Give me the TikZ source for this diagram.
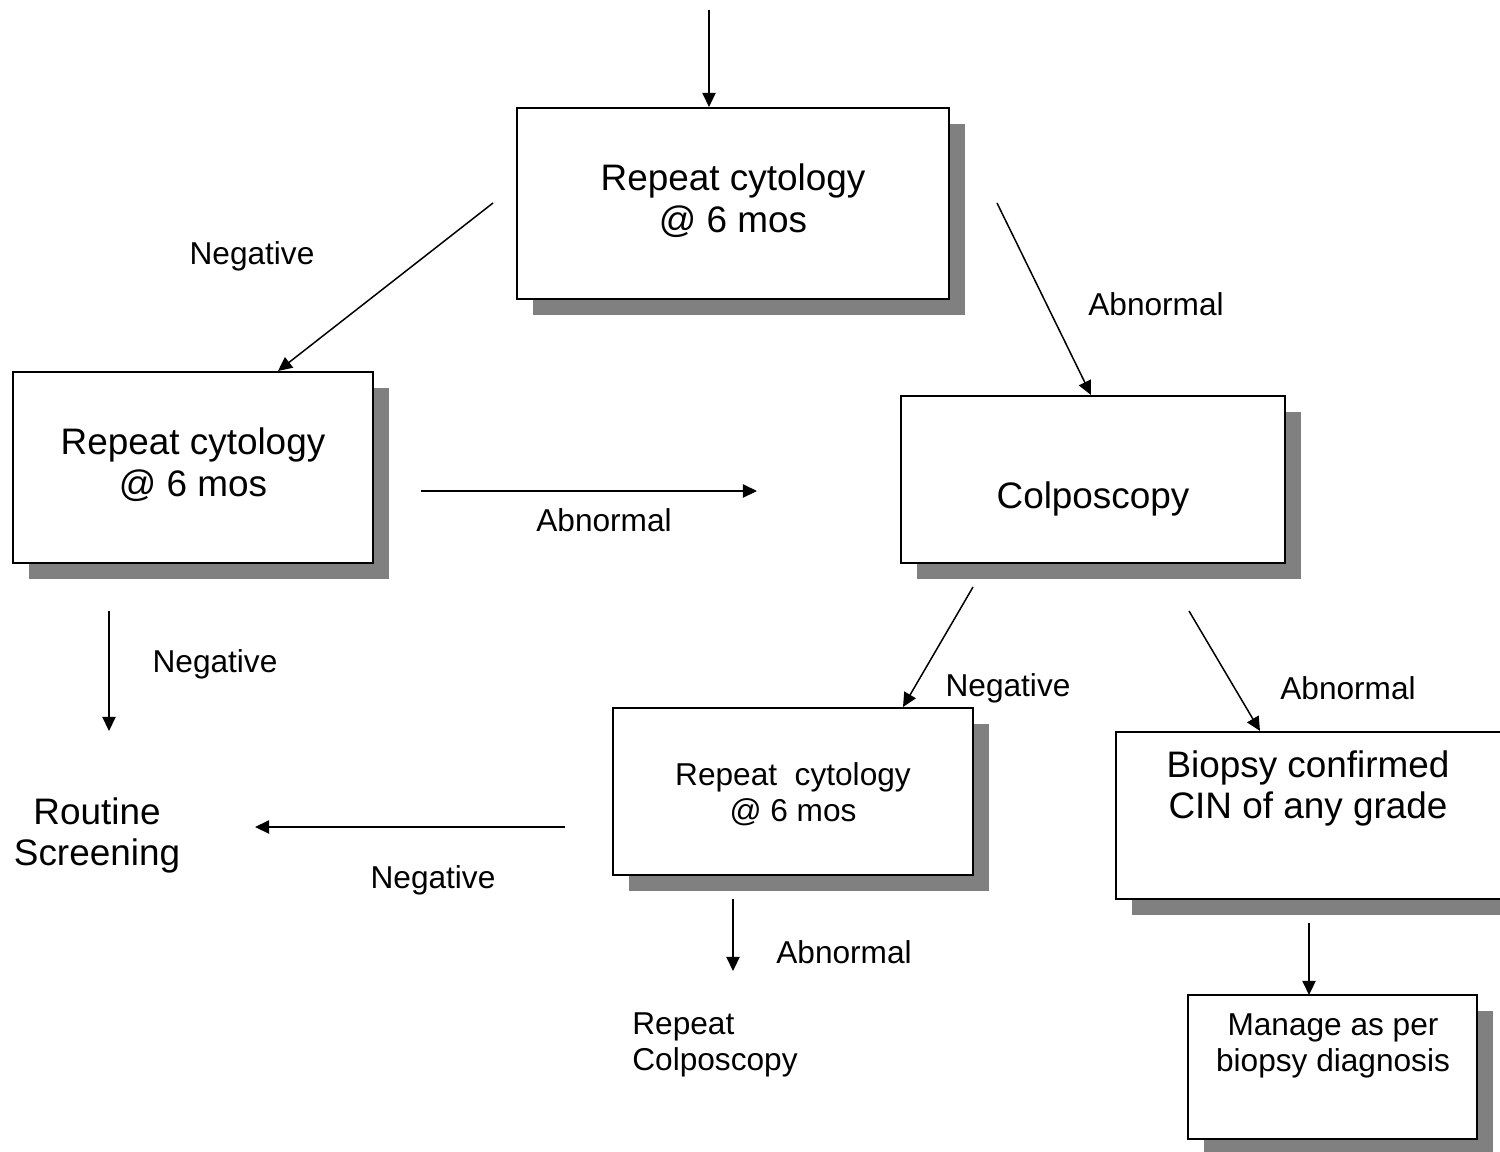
\documentclass[tikz,border=0pt]{standalone}
\usepackage{fontspec}
\setmainfont{Liberation Sans}
\usetikzlibrary{arrows.meta,shadows,fit}
\definecolor{shadowgray}{RGB}{128,128,128}
\begin{document}
\begin{tikzpicture}[x=0.02cm,y=-0.02cm,
  box/.style={draw=black, line width=1.2pt, fill=white, inner sep=0pt,
    drop shadow={shadow xshift=0.32cm, shadow yshift=-0.32cm,
                 fill=shadowgray, opacity=1}},
  big/.style={font=\fontsize{21}{23.8}\selectfont, align=center, inner sep=0pt},
  small/.style={font=\fontsize{18}{20.4}\selectfont, align=center, inner sep=0pt},
  arr/.style={draw=black, line width=0.85pt,
    -{Triangle[length=8pt,width=7.5pt]}}]
\useasboundingbox[fill=white] (0,0) rectangle (1500,1152);

% boxes
\node[box, fit={(517,108) (949,299)}] (a) {};
\node[box, fit={(13,372) (373,563)}] (b) {};
\node[box, fit={(901,396) (1285,563)}] (c) {};
\node[box, fit={(613,708) (973,875)}] (d) {};
\node[box, fit={(1116,732) (1520,899)}] (e) {};
\node[box, fit={(1188,995) (1477,1139)}] (f) {};

% box texts
\node[big] (ta) at (733,200.5) {Repeat cytology\\@ 6 mos};
\node[big] (tb) at (193,464.5) {Repeat cytology\\@ 6 mos};
\node[big] (tc) at (1093,499) {Colposcopy};
\node[small] (td) at (793,794) {Repeat\ \ cytology\\@ 6 mos};
\node[big] (te) at (1308,788.5) {Biopsy confirmed\\CIN of any grade};
\node[small] (tf) at (1333,1046) {Manage as per\\biopsy diagnosis};

% plain outcome texts
\node[big] (routine) at (97,835.5) {Routine\\Screening};
\node[small, align=left, anchor=west] (repcol) at (632,1045) {Repeat\\Colposcopy};

% connector end points
\coordinate (s0) at (709,10);
\coordinate (e0) at (709,107);
\coordinate (s1) at (493,203);
\coordinate (e1) at (278,371);
\coordinate (s2) at (997,203);
\coordinate (e2) at (1091,395);
\coordinate (s3) at (421,491);
\coordinate (e3) at (757,491);
\coordinate (s4) at (109,611);
\coordinate (e4) at (109,731);
\coordinate (s5) at (973,587);
\coordinate (e5) at (903,707);
\coordinate (s6) at (1189,611);
\coordinate (e6) at (1260,731);
\coordinate (s7) at (565,827);
\coordinate (e7) at (255,827);
\coordinate (s8) at (733,899);
\coordinate (e8) at (733,971);
\coordinate (s9) at (1309,923);
\coordinate (e9) at (1309,995);

% connectors
\draw[arr] (s0) -- (e0);
\draw[arr] (s1) -- (e1);
\draw[arr] (s2) -- (e2);
\draw[arr] (s3) -- (e3);
\draw[arr] (s4) -- (e4);
\draw[arr] (s5) -- (e5);
\draw[arr] (s6) -- (e6);
\draw[arr] (s7) -- (e7);
\draw[arr] (s8) -- (e8);
\draw[arr] (s9) -- (e9);

% connector labels
\node[small] (l1) at (252,256.5) {Negative};
\node[small] (l2) at (1156,304.5) {Abnormal};
\node[small] (l3) at (604,520.5) {Abnormal};
\node[small] (l4) at (215,664.5) {Negative};
\node[small] (l5) at (1008,688.5) {Negative};
\node[small] (l6) at (1348,688.5) {Abnormal};
\node[small] (l7) at (433,880.5) {Negative};
\node[small] (l8) at (844,952.5) {Abnormal};
\end{tikzpicture}
\end{document}
